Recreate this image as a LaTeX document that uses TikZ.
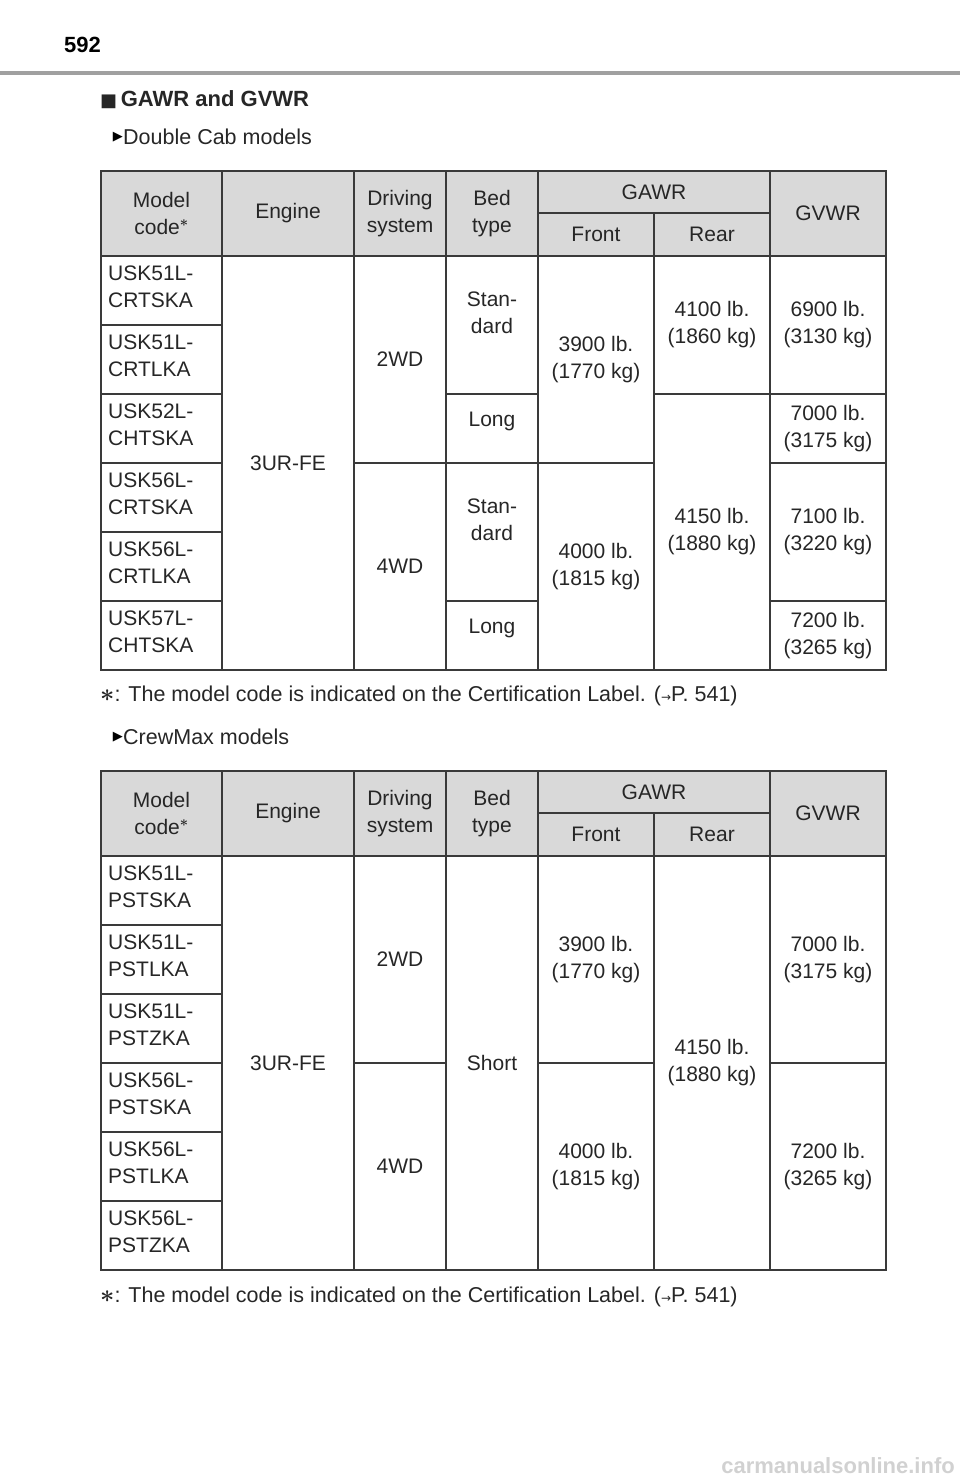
\documentclass[tikz,border=0pt]{standalone}
\usepackage{fontspec}
\setmainfont{Liberation Sans}
\newfontfamily\symfont{DejaVu Sans}
\definecolor{hdrgray}{HTML}{D9D9D9}
\definecolor{rulegray}{HTML}{A0A0A0}
\definecolor{linegray}{HTML}{3A3A3A}
\tikzset{
  cellbox/.style={draw=linegray, line width=1.1pt},
  celltxt/.style={align=center, inner sep=0pt, font=\fontsize{21}{27}\selectfont, text=black!85},
  codetxt/.style={align=left, anchor=north west, inner sep=0pt, font=\fontsize{21}{27}\selectfont, text=black!85},
  plaintxt/.style={anchor=west, inner sep=0pt, font=\fontsize{21.5}{26}\selectfont, text=black!85},
}
% \cell{name}{x1}{y1}{x2}{y2}{text}
\newcommand{\cell}[6]{%
  \draw[cellbox] (#2,#3) rectangle (#4,#5);
  \node[celltxt] (#1) at ({(#2+#4)/2},{(#3+#5)/2}) {#6};}
\newcommand{\hcell}[6]{%
  \filldraw[cellbox, fill=hdrgray] (#2,#3) rectangle (#4,#5);
  \node[celltxt] (#1) at ({(#2+#4)/2},{(#3+#5)/2}) {#6};}
\newcommand{\tablehead}[2]{% #1 prefix, #2 top y
  \hcell{#1model}{101}{#2}{222}{#2+85}{Model\\code$^{\boldsymbol{*}}$}
  \hcell{#1engine}{222}{#2}{354}{#2+85}{Engine}
  \hcell{#1drive}{354}{#2}{446}{#2+85}{Driving\\system}
  \hcell{#1bed}{446}{#2}{538}{#2+85}{Bed\\type}
  \hcell{#1gawr}{538}{#2}{770}{#2+42}{GAWR}
  \hcell{#1front}{538}{#2+42}{654}{#2+85}{Front}
  \hcell{#1rear}{654}{#2+42}{770}{#2+85}{Rear}
  \hcell{#1gvwr}{770}{#2}{886}{#2+85}{GVWR}}
\usepackage{amsmath,amssymb}
\begin{document}
\begin{tikzpicture}[x=1pt, y=-1pt]
\useasboundingbox (0,0) rectangle (960,1484);
\node[anchor=west, inner sep=0pt, font=\fontsize{22}{26}\selectfont\bfseries] (page) at (64,45) {592};
\draw[rulegray, line width=4pt] (0,73) -- (960,73);
\node[plaintxt, font=\fontsize{22}{26}\selectfont\bfseries] (title) at (100,100) {{\symfont\fontsize{18}{20}\selectfont ■}\,GAWR and GVWR};
\node[plaintxt] (sec1) at (123,137) {Double Cab models};
\node[anchor=east, inner sep=0pt, font=\fontsize{13}{14}\selectfont\symfont] (arr1) at (sec1.west) {▶\hspace{6pt}};
% Double Cab
\tablehead{a}{171}
\foreach \c/\t [count=\i from 0] in {CRTSKA/USK51L,CRTLKA/USK51L,CHTSKA/USK52L,CRTSKA/USK56L,CRTLKA/USK56L,CHTSKA/USK57L}{
  \draw[cellbox] (101,256+69*\i) rectangle (222,325+69*\i);
  \node[codetxt] (acode\i) at (108,266+69*\i) {\t-\\\c};
}
\cell{aeng}{222}{256}{354}{670}{3UR-FE}
\cell{adrA}{354}{256}{446}{463}{2WD}
\cell{adrB}{354}{463}{446}{670}{4WD}
\cell{abedA}{446}{256}{538}{394}{Stan-\\dard\\[-2pt]\phantom{x}}
\cell{abedB}{446}{394}{538}{463}{Long\\[-8pt]\phantom{x}}
\cell{abedC}{446}{463}{538}{601}{Stan-\\dard\\[-2pt]\phantom{x}}
\cell{abedD}{446}{601}{538}{670}{Long\\[-8pt]\phantom{x}}
\cell{afrA}{538}{256}{654}{463}{3900 lb.\\(1770 kg)}
\cell{afrB}{538}{463}{654}{670}{4000 lb.\\(1815 kg)}
\cell{areA}{654}{256}{770}{394}{4100 lb.\\(1860 kg)}
\cell{areB}{654}{394}{770}{670}{4150 lb.\\(1880 kg)}
\cell{agvA}{770}{256}{886}{394}{6900 lb.\\(3130 kg)}
\cell{agvB}{770}{394}{886}{463}{7000 lb.\\(3175 kg)}
\cell{agvC}{770}{463}{886}{601}{7100 lb.\\(3220 kg)}
\cell{agvD}{770}{601}{886}{670}{7200 lb.\\(3265 kg)}
\node[plaintxt] (note1) at (100,696) {{\fontsize{30}{30}\selectfont$\boldsymbol{*}$}: The model code is indicated on the Certification Label. ({\symfont\fontsize{12}{12}\selectfont →}P. 541)};
% CrewMax
\node[plaintxt] (sec2) at (123,737) {CrewMax models};
\node[anchor=east, inner sep=0pt, font=\fontsize{13}{14}\selectfont\symfont] (arr2) at (sec2.west) {▶\hspace{6pt}};
\tablehead{b}{771}
\foreach \c/\t [count=\i from 0] in {PSTSKA/USK51L,PSTLKA/USK51L,PSTZKA/USK51L,PSTSKA/USK56L,PSTLKA/USK56L,PSTZKA/USK56L}{
  \draw[cellbox] (101,856+69*\i) rectangle (222,925+69*\i);
  \node[codetxt] (bcode\i) at (108,866+69*\i) {\t-\\\c};
}
\cell{beng}{222}{856}{354}{1270}{3UR-FE}
\cell{bdrA}{354}{856}{446}{1063}{2WD}
\cell{bdrB}{354}{1063}{446}{1270}{4WD}
\cell{bbed}{446}{856}{538}{1270}{Short}
\cell{bfrA}{538}{856}{654}{1063}{3900 lb.\\(1770 kg)}
\cell{bfrB}{538}{1063}{654}{1270}{4000 lb.\\(1815 kg)}
\cell{bre}{654}{856}{770}{1270}{4150 lb.\\(1880 kg)}
\cell{bgvA}{770}{856}{886}{1063}{7000 lb.\\(3175 kg)}
\cell{bgvB}{770}{1063}{886}{1270}{7200 lb.\\(3265 kg)}
\node[plaintxt] (note2) at (100,1297) {{\fontsize{30}{30}\selectfont$\boldsymbol{*}$}: The model code is indicated on the Certification Label. ({\symfont\fontsize{12}{12}\selectfont →}P. 541)};
\node[anchor=east, inner sep=0pt, font=\fontsize{22}{24}\selectfont\bfseries, text=black!18] (mark) at (955,1466) {carmanualsonline.info};
\end{tikzpicture}
\end{document}
